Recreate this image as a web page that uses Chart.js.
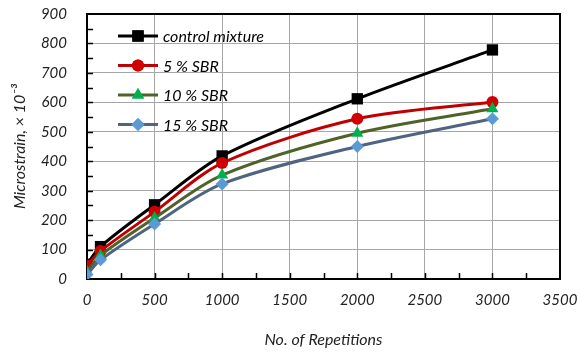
<!DOCTYPE html>
<html>
<head>
<meta charset="utf-8">
<script src="https://cdn.jsdelivr.net/npm/chart.js@4"></script>
<style>
  html, body { margin: 0; padding: 0; background: #fff; }
  #wrap { width: 580px; height: 353px; }
</style>
</head>
<body>
<div id="wrap"><canvas id="c" width="580" height="353"></canvas></div>
<script>
// datos
const repeticiones = [0, 100, 500, 1000, 2000, 3000];
const control = [50, 110, 252, 418, 612, 778];
const sbr5 = [45, 95, 228, 394, 544, 601];
const sbr10 = [25, 80, 207, 353, 495, 578];
const sbr15 = [15, 65, 187, 323, 450, 544];
const nombres = ['control mixture', '5 % SBR', '10 % SBR', '15 % SBR'];
const xTicks = [0, 500, 1000, 1500, 2000, 2500, 3000, 3500];
const yTicks = [0, 100, 200, 300, 400, 500, 600, 700, 800, 900];

const FONT = 'Lato, "Open Sans", sans-serif';
const pts = arr => repeticiones.map((x, i) => ({x, y: arr[i]}));

const estilos = [
  {line: '#000000', fill: '#000000', style: 'rect', r: 8},
  {line: '#c00000', fill: '#d00000', style: 'circle', r: 6},
  {line: '#4f6228', fill: '#00b050', style: 'triangle', r: 7},
  {line: '#4f6480', fill: '#5b9bd5', style: 'rectRot', r: 6.5}
];

const series = [control, sbr5, sbr10, sbr15];
const datasets = series.map((s, i) => ({
  label: nombres[i],
  data: pts(s),
  borderColor: estilos[i].line,
  backgroundColor: estilos[i].fill,
  borderWidth: 3,
  pointStyle: estilos[i].style,
  pointRadius: estilos[i].r,
  pointBorderWidth: 0,
  pointBackgroundColor: estilos[i].fill,
  tension: 0.3
})).reverse();

// marco, ticks menores y leyenda
const extras = {
  id: 'extras',
  beforeDatasetsDraw(chart) {
    const {ctx, chartArea: a, scales} = chart;
    ctx.save();
    ctx.strokeStyle = '#000';
    ctx.lineWidth = 2;
    ctx.strokeRect(a.left, a.top, a.right - a.left, a.bottom - a.top);
    ctx.lineWidth = 1.5;
    ctx.beginPath();
    for (let v = 50; v < 900; v += 50) {
      const y = Math.round(scales.y.getPixelForValue(v)) + 0.5;
      ctx.moveTo(a.left, y); ctx.lineTo(a.left + 6, y);
    }
    for (let v = 250; v < 3500; v += 250) {
      const x = Math.round(scales.x.getPixelForValue(v)) + 0.5;
      ctx.moveTo(x, a.bottom); ctx.lineTo(x, a.bottom - 6);
    }
    ctx.stroke();
    ctx.restore();
  },
  afterDraw(chart) {
    const {ctx} = chart;
    ctx.save();
    ctx.font = 'italic 16px ' + FONT;
    ctx.textBaseline = 'middle';
    const ds = chart.data.datasets.slice().reverse();
    ds.forEach((d, i) => {
      const y = 36 + i * 29.5;
      ctx.strokeStyle = d.borderColor;
      ctx.lineWidth = 3;
      ctx.beginPath(); ctx.moveTo(118, y); ctx.lineTo(158, y); ctx.stroke();
      ctx.fillStyle = d.pointBackgroundColor;
      Chart.helpers.drawPoint(ctx, {pointStyle: d.pointStyle, radius: d.pointRadius, borderWidth: 0}, 138, y);
      ctx.fill();
      ctx.fillStyle = '#000';
      ctx.fillText(d.label, 163, y + 1);
    });
    ctx.restore();
  }
};

new Chart(document.getElementById('c'), {
  type: 'line',
  data: {datasets},
  options: {
    responsive: false,
    animation: false,
    layout: {padding: {top: 14, right: 20, left: 6, bottom: 0}},
    plugins: {legend: {display: false}, tooltip: {enabled: false}},
    scales: {
      x: {
        type: 'linear', min: 0, max: 3500,
        afterBuildTicks: s => { s.ticks = xTicks.map(v => ({value: v})); },
        afterFit: s => { s.height = 74; s.paddingRight = 0; s.paddingLeft = 0; },
        grid: {color: '#a6a6a6', lineWidth: 1, drawTicks: false},
        border: {display: false},
        ticks: {padding: 12, color: '#222', font: {family: FONT, size: 15, style: 'italic'},
          callback: v => String(v)},
        title: {display: true, text: 'No. of Repetitions', color: '#222', padding: {top: 2},
          font: {family: FONT, size: 16, style: 'italic'}}
      },
      y: {
        min: 0, max: 900,
        afterBuildTicks: s => { s.ticks = yTicks.map(v => ({value: v})); },
        afterFit: s => { s.width = 81; s.paddingTop = 0; s.paddingBottom = 0; },
        grid: {color: '#a6a6a6', lineWidth: 1, drawTicks: false},
        border: {display: false},
        ticks: {padding: 20, color: '#222', font: {family: FONT, size: 15, style: 'italic'},
          callback: v => String(v)},
        title: {display: true, text: 'Microstrain, × 10⁻³', color: '#222', padding: {bottom: 0},
          font: {family: FONT, size: 16, style: 'italic'}}
      }
    }
  },
  plugins: [extras]
});
</script>
</body>
</html>
